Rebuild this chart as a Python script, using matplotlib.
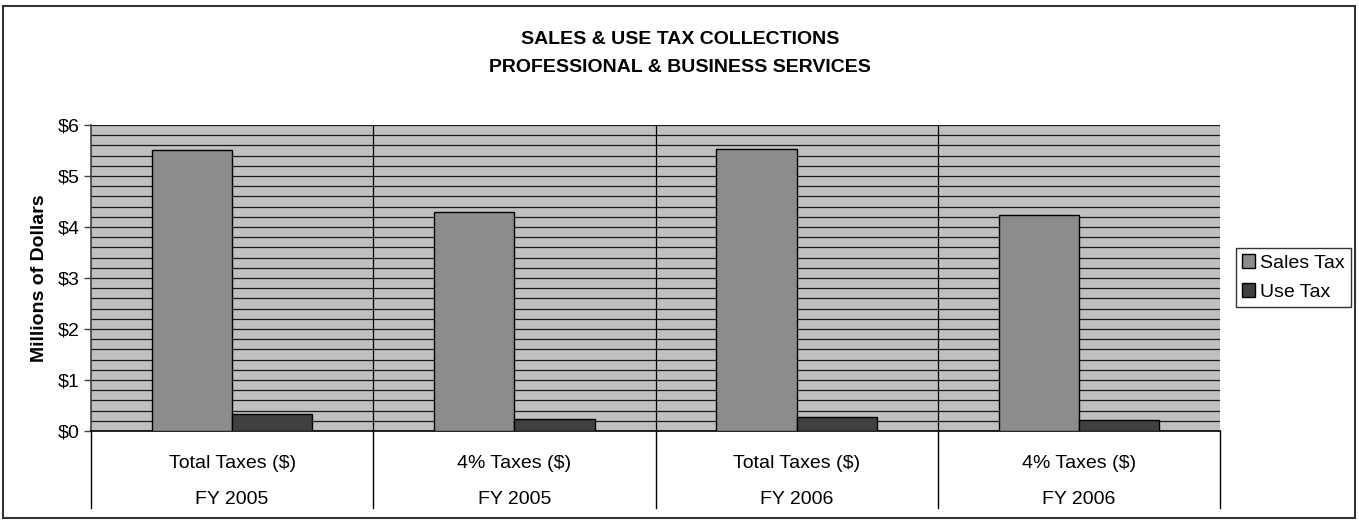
import matplotlib
matplotlib.use("Agg")
import matplotlib.pyplot as plt
import numpy as np
from matplotlib.patches import Rectangle
from matplotlib.ticker import MultipleLocator, FuncFormatter
import matplotlib.transforms as mtransforms

plt.rcParams['font.family'] = ['Liberation Sans', 'DejaVu Sans']

categories = ["Total Taxes ($)", "4% Taxes ($)", "Total Taxes ($)", "4% Taxes ($)"]
years = ["FY 2005", "FY 2005", "FY 2006", "FY 2006"]
sales_tax = [5.51, 4.29, 5.535, 4.235]
use_tax = [0.327, 0.235, 0.28, 0.22]
series_names = ["Sales Tax", "Use Tax"]

W, H = 1359, 520
FS = 14
fig = plt.figure(figsize=(W / 100, H / 100), dpi=100)
ax = fig.add_axes([91 / W, 1 - 431 / H, (1220 - 91) / W, (431 - 125) / H])
ax.set_facecolor('#C0C0C0')

x = np.arange(len(categories))
bw = 0.284
ax.bar(x - bw / 2, sales_tax, bw, color='#8C8C8C', edgecolor='black', linewidth=1.0,
       label=series_names[0], zorder=3)
ax.bar(x + bw / 2, use_tax, bw, color='#404040', edgecolor='black', linewidth=1.0,
       label=series_names[1], zorder=3)

ax.set_xlim(-0.5, len(categories) - 0.5)
ax.set_ylim(0, 6)
ax.yaxis.set_major_locator(MultipleLocator(1))
ax.yaxis.set_minor_locator(MultipleLocator(0.2))
ax.yaxis.set_major_formatter(FuncFormatter(lambda v, p: f"${v:.0f}"))
ax.grid(True, which='both', axis='y', color='#1a1a1a', linewidth=0.9, zorder=1)
ax.tick_params(axis='y', which='major', direction='out', length=5, width=1,
               color='#404040', labelsize=FS, pad=3)
ax.tick_params(axis='y', which='minor', length=0)
ax.set_xticks([])
for b in x[:-1] + 0.5:
    ax.axvline(b, color='black', linewidth=0.9, zorder=1)

for s in ['top', 'right']:
    ax.spines[s].set_visible(False)
ax.spines['left'].set_color('#404040')
ax.spines['left'].set_linewidth(1.2)
ax.spines['bottom'].set_color('black')
ax.spines['bottom'].set_linewidth(1.2)

# category separators below axis
trans = mtransforms.blended_transform_factory(ax.transData, ax.transAxes)
drop = (508 - 431) / (431 - 125)
for b in np.append(x - 0.5, x[-1] + 0.5):
    ax.plot([b, b], [0, -drop], transform=trans, color='black', linewidth=1.0, clip_on=False)
for i in x:
    ax.text(i, -(463 - 431) / (431 - 125), categories[i], transform=trans,
            ha='center', va='center', fontsize=FS)
    ax.text(i, -(500 - 431) / (431 - 125), years[i], transform=trans,
            ha='center', va='center', fontsize=FS)

ax.set_ylabel("Millions of Dollars", fontsize=FS, fontweight='bold', labelpad=7)

fig.text(680 / W, 1 - 40 / H, "SALES & USE TAX COLLECTIONS", ha='center', va='center',
         fontsize=FS, fontweight='bold')
fig.text(680 / W, 1 - 68 / H, "PROFESSIONAL & BUSINESS SERVICES", ha='center', va='center',
         fontsize=FS, fontweight='bold')

leg = fig.legend(loc='center left', bbox_to_anchor=(1236 / W, 1 - 277.5 / H),
                 fontsize=FS, frameon=True, fancybox=False, handlelength=0.7,
                 handleheight=0.7, handletextpad=0.25, borderpad=0.3, labelspacing=0.6,
                 borderaxespad=0)
leg.get_frame().set_edgecolor('black')
leg.get_frame().set_linewidth(1.0)

fig.patches.append(Rectangle((3 / W, 1 - 518 / H), (1355 - 3) / W, (518 - 6) / H,
                             transform=fig.transFigure, fill=False, edgecolor='#333333',
                             linewidth=1.5))

fig.savefig("out.png", dpi=100)
